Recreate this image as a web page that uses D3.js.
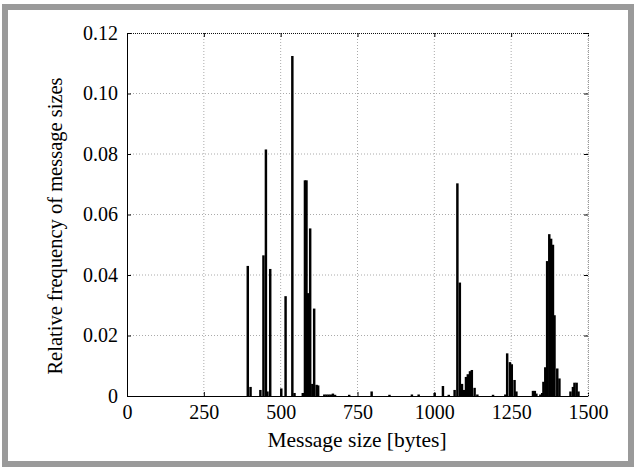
<!DOCTYPE html>
<html>
<head>
<meta charset="utf-8">
<script src="https://cdn.jsdelivr.net/npm/d3@7"></script>
<style>
  body { margin: 0; background: #fff; }
</style>
</head>
<body>
<div id="chart"></div>
<script>
// message size histogram, bin left edges in bytes
var binWidth = 8;
var binStart = [389, 398, 430, 440, 448, 453, 462, 498, 512, 534, 541, 568, 575, 580, 585, 592, 599, 605, 613, 618,
  638, 645, 652, 659, 666, 673, 719, 792, 850, 923, 945, 997, 1024, 1043, 1062, 1071, 1079, 1086, 1092, 1099,
  1105, 1112, 1118, 1127, 1136, 1187, 1227, 1233, 1242, 1248, 1257, 1263, 1317, 1323, 1328, 1341, 1347, 1351,
  1357, 1363, 1370, 1376, 1382, 1387, 1396, 1403, 1439, 1447, 1452, 1459, 1465];
var relFreq = [0.043, 0.003, 0.002, 0.0465, 0.0815, 0.0015, 0.042, 0.0025, 0.033, 0.1124, 0.001, 0.001, 0.0713, 0.0713, 0.034, 0.0554, 0.004, 0.0289, 0.0037, 0.0035,
  0.0005, 0.0005, 0.0005, 0.0005, 0.0008, 0.0004, 0.0004, 0.0015, 0.0004, 0.0005, 0.0005, 0.001, 0.0033, 0.0004, 0.002, 0.0703, 0.0375, 0.004, 0.002, 0.0063,
  0.0072, 0.0082, 0.0086, 0.0027, 0.0005, 0.0004, 0.0005, 0.0141, 0.0112, 0.0105, 0.0053, 0.0015, 0.0017, 0.0017, 0.0008, 0.0005, 0.001, 0.0047,
  0.0095, 0.0446, 0.0535, 0.052, 0.05, 0.0267, 0.0091, 0.0058, 0.0015, 0.003, 0.0044, 0.0044, 0.0015];

var xTicks = [0, 250, 500, 750, 1000, 1250, 1500];
var yTicks = [0, 0.02, 0.04, 0.06, 0.08, 0.10, 0.12];
var yTickLabels = ["0", "0.02", "0.04", "0.06", "0.08", "0.10", "0.12"];

var data = binStart.map(function(d, i) { return {start: d, value: relFreq[i]}; });

var FONT = "'Liberation Serif', 'Times New Roman', Times, serif";

var W = 636, H = 471;
var margin = {top: 33, right: 48, bottom: 75, left: 127},
    width = W - margin.left - margin.right,
    height = H - margin.top - margin.bottom;

var svg = d3.select("#chart").append("svg")
    .attr("width", W)
    .attr("height", H)
    .attr("font-family", FONT);

// grey frame round the figure
svg.append("rect")
    .attr("x", 5).attr("y", 7)
    .attr("width", 626).attr("height", 457)
    .attr("fill", "none")
    .attr("stroke", "#9a9a9a")
    .attr("stroke-width", 6);

var g = svg.append("g")
    .attr("transform", "translate(" + margin.left + "," + margin.top + ")");

var x = d3.scaleLinear().domain([0, 1500]).range([0, width]);
var y = d3.scaleLinear().domain([0, 0.12]).range([height, 0]);

// dotted grid
g.append("g").selectAll("line")
    .data(xTicks.slice(1))
  .enter().append("line")
    .attr("x1", function(d) { return x(d); })
    .attr("x2", function(d) { return x(d); })
    .attr("y1", 0).attr("y2", height)
    .attr("stroke", "#aaa")
    .attr("stroke-dasharray", "1,2");

g.append("g").selectAll("line")
    .data(yTicks.slice(1, -1))
  .enter().append("line")
    .attr("x1", 0).attr("x2", width)
    .attr("y1", function(d) { return y(d); })
    .attr("y2", function(d) { return y(d); })
    .attr("stroke", "#aaa")
    .attr("stroke-dasharray", "1,2");

// bars
g.append("g").selectAll("rect")
    .data(data)
  .enter().append("rect")
    .attr("x", function(d) { return x(d.start); })
    .attr("width", function(d) { return x(d.start + binWidth) - x(d.start); })
    .attr("y", function(d) { return y(d.value); })
    .attr("height", function(d) { return height - y(d.value); })
    .attr("fill", "#000");

// top edge, dotted dark
g.append("line")
    .attr("x1", 0).attr("x2", width).attr("y1", 0.5).attr("y2", 0.5)
    .attr("stroke", "#111").attr("stroke-dasharray", "1,1");

// axes with inward ticks
var xAxis = d3.axisBottom(x).tickValues(xTicks).tickSize(-4).tickPadding(8).tickFormat(d3.format("d"));
var yAxis = d3.axisLeft(y).tickValues(yTicks).tickSize(-4).tickPadding(9)
    .tickFormat(function(d, i) { return yTickLabels[i]; });

var gx = g.append("g")
    .attr("transform", "translate(0," + height + ")")
    .call(xAxis)
    .attr("font-family", FONT).attr("font-size", 20);
gx.select(".domain").attr("stroke", "#000").attr("d", "M0,0.5H" + width);
gx.selectAll("text").attr("dy", "0.75em");

var gy = g.append("g").call(yAxis)
    .attr("font-family", FONT).attr("font-size", 20);
gy.select(".domain").attr("stroke", "#000").attr("d", "M0.5," + height + "V0");

// top and right ticks
g.append("g")
    .call(d3.axisTop(x).tickValues(xTicks).tickSize(-4).tickFormat(""))
    .select(".domain").remove();
var gr = g.append("g")
    .attr("transform", "translate(" + width + ",0)")
    .call(d3.axisRight(y).tickValues(yTicks).tickSize(-4).tickFormat(""));
gr.select(".domain").attr("stroke", "#999").attr("stroke-dasharray", "1,1");

// titles
svg.append("text")
    .attr("x", 357)
    .attr("y", 447)
    .attr("text-anchor", "middle")
    .attr("font-size", 21.5)
    .text("Message size [bytes]");

svg.append("text")
    .attr("transform", "translate(62,226) rotate(-90)")
    .attr("text-anchor", "middle")
    .attr("font-size", 20.5)
    .text("Relative frequency of message sizes");
</script>
</body>
</html>
